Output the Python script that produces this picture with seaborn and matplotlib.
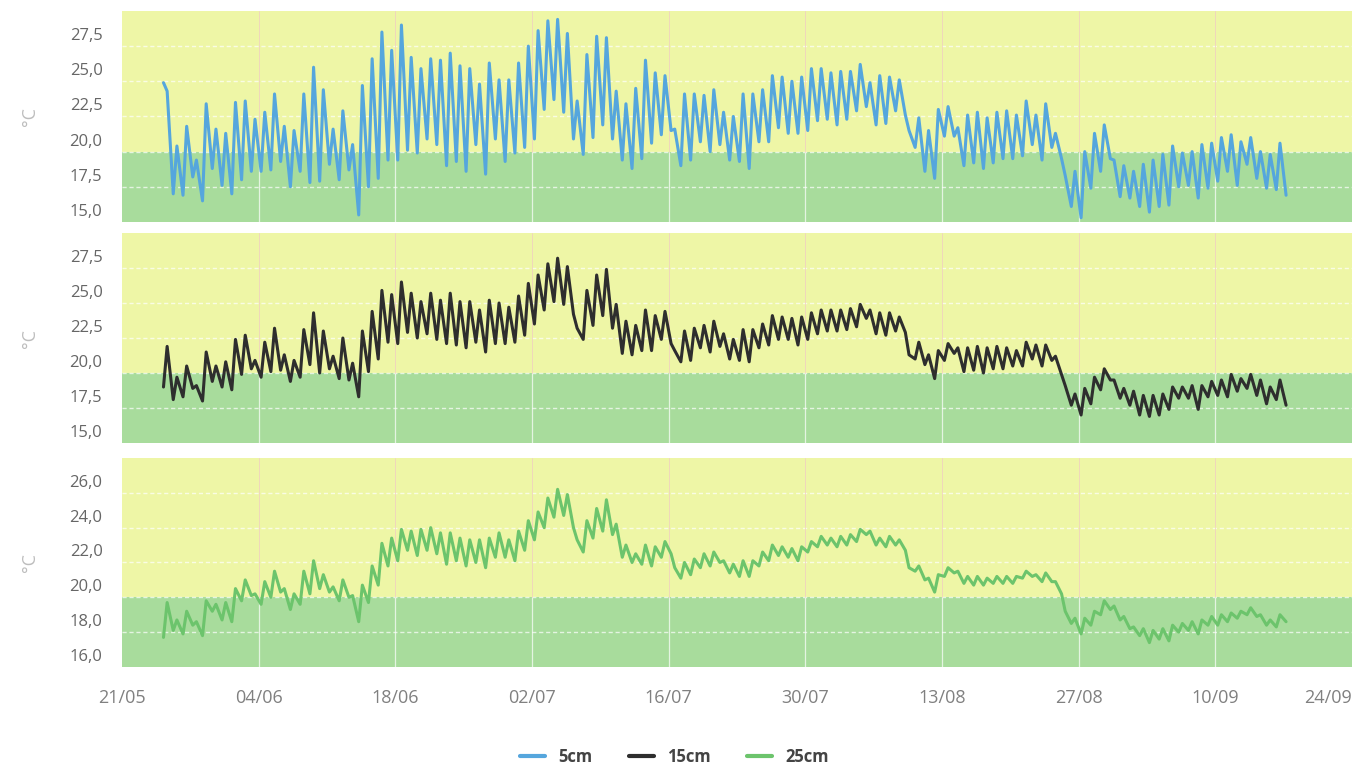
import pandas as pd
import matplotlib
matplotlib.use("Agg")
import matplotlib.pyplot as plt
import matplotlib.dates as mdates
from matplotlib.ticker import FuncFormatter
from matplotlib.transforms import ScaledTranslation
from matplotlib.lines import Line2D
import seaborn as sns

# ─────────────────────────────────────────────
# Soil temperature at 5 / 15 / 25 cm — daily lows (morning) and highs (afternoon)
# one value per day, 25/05 → 17/09
# ─────────────────────────────────────────────

DAYS = pd.date_range("2016-05-25", "2016-09-17", freq="D")

#            May 25-31 | June | July | August | September 1-17
LOW_5 = [24.9, 17.0, 16.9, 18.2, 16.5, 18.8, 17.6,
         17.0, 18.0, 18.6, 18.6, 18.7, 19.3, 17.5, 18.6, 17.8, 17.9, 19.1, 18.0, 18.7, 15.5, 17.5,
         18.1, 19.4, 19.4, 20.1, 19.9, 20.9, 20.5, 19.0, 19.3, 18.6, 20.5, 18.4, 20.9, 19.3, 19.9,
         20.3, 20.9, 23.0, 23.7, 22.8, 20.9, 19.8, 21.0, 21.9, 20.9, 19.4, 18.8, 19.5, 20.6, 21.2,
         21.5, 19.0, 19.4, 20.7, 20.0, 20.5, 19.4, 19.3, 18.8, 20.7, 20.7, 21.7, 21.3, 21.3, 21.5, 22.2,
         22.3, 21.9, 22.3, 22.9, 23.2, 21.9, 22.0, 22.9, 22.6, 20.3, 18.6, 18.1, 21.1, 21.1, 19.0,
         19.2, 18.8, 19.2, 19.5, 19.5, 19.7, 20.5, 19.4, 20.3, 19.5, 16.1, 15.3, 17.4, 18.6, 19.5, 16.8,
         16.7, 16.1, 15.7, 16.1, 16.2, 17.5, 17.6, 16.7, 17.4, 17.9, 18.6, 17.6, 19.1, 18.1, 17.4,
         17.3, 16.9]
HIGH_5 = [24.3, 20.4, 21.8, 19.4, 23.4, 21.6, 21.3,
          23.5, 23.6, 22.3, 22.8, 24.1, 21.8, 21.5, 24.1, 26.0, 24.4, 21.6, 22.9, 20.5, 24.7, 26.6,
          28.5, 27.2, 29.0, 26.7, 25.9, 26.6, 26.5, 27.0, 26.1, 25.9, 24.8, 26.3, 25.1, 25.1, 26.3,
          27.5, 28.6, 29.3, 29.4, 28.4, 23.6, 26.9, 28.2, 28.1, 24.3, 23.4, 24.5, 26.5, 25.6, 25.4,
          21.6, 24.1, 24.1, 24.0, 24.4, 22.8, 22.5, 24.1, 24.1, 24.4, 25.4, 25.3, 25.0, 25.3, 25.9, 25.9,
          25.6, 25.7, 25.7, 26.2, 24.9, 25.4, 25.3, 25.1, 21.5, 22.4, 21.5, 23.0, 23.2, 21.7, 22.6,
          22.8, 22.4, 22.8, 22.9, 22.6, 23.6, 22.6, 23.4, 21.3, 18.3, 18.6, 20.0, 21.3, 21.9, 19.4, 19.0,
          18.6, 19.1, 19.4, 19.8, 20.4, 19.9, 20.0, 20.5, 20.6, 21.0, 21.2, 20.7, 21.0, 20.0, 19.8,
          20.6, None]

LOW_15 = [19.0, 18.1, 18.3, 18.9, 18.0, 19.4, 19.0,
          18.8, 19.9, 20.3, 19.7, 20.1, 20.2, 19.4, 19.7, 20.6, 20.0, 20.3, 19.6, 19.5, 18.3, 20.1,
          21.0, 22.2, 22.1, 22.9, 22.5, 22.8, 22.4, 22.1, 22.0, 21.8, 22.2, 21.5, 22.1, 22.1, 22.2,
          22.7, 23.5, 24.5, 25.1, 24.9, 24.2, 22.4, 23.4, 24.1, 23.2, 21.4, 21.3, 21.6, 21.6, 22.4,
          22.1, 20.8, 20.9, 21.8, 21.5, 21.9, 21.0, 20.9, 20.8, 21.8, 22.0, 22.4, 22.4, 22.0, 22.4, 22.8,
          23.0, 23.0, 23.1, 23.3, 23.9, 22.8, 22.7, 23.0, 22.9, 21.0, 20.6, 19.6, 20.9, 21.4, 20.1,
          20.2, 20.0, 20.3, 20.3, 20.5, 20.5, 21.0, 20.5, 20.9, 19.9, 17.7, 17.0, 17.8, 18.8, 19.5, 18.2,
          17.7, 17.0, 16.9, 17.0, 17.4, 18.2, 18.2, 17.4, 18.3, 18.4, 18.3, 18.7, 18.9, 18.4, 17.8,
          18.1, 17.7]
HIGH_15 = [21.9, 19.7, 20.5, 19.1, 21.5, 20.5, 20.8,
           22.4, 22.7, 20.9, 22.2, 23.2, 21.3, 20.9, 23.1, 24.3, 23.0, 21.2, 22.5, 20.7, 23.0, 24.4,
           25.9, 25.6, 26.5, 25.7, 25.1, 25.7, 25.2, 25.7, 25.1, 25.1, 24.5, 25.2, 25.0, 24.7, 25.5,
           26.4, 27.0, 27.8, 28.2, 27.6, 23.2, 25.9, 27.0, 27.4, 24.9, 23.7, 23.4, 24.5, 24.1, 24.4,
           21.6, 23.0, 23.2, 23.4, 23.7, 22.8, 22.4, 23.1, 23.1, 23.5, 24.1, 24.0, 23.9, 24.0, 24.3, 24.5,
           24.5, 24.5, 24.6, 24.9, 24.5, 24.3, 24.3, 24.0, 21.3, 22.2, 21.3, 21.6, 22.1, 21.8, 21.8,
           21.9, 21.8, 21.9, 21.8, 21.6, 22.2, 22.0, 22.0, 21.2, 19.1, 18.5, 18.9, 19.7, 20.3, 19.5, 18.9,
           18.7, 18.4, 18.4, 18.5, 19.0, 19.0, 19.1, 19.1, 19.4, 19.5, 19.9, 19.6, 19.9, 19.5, 19.0,
           19.5, None]

LOW_25 = [17.7, 18.1, 17.9, 18.4, 17.8, 19.2, 18.7,
          18.6, 19.8, 20.1, 19.6, 20.0, 20.3, 19.3, 19.6, 20.2, 20.5, 20.3, 19.8, 20.0, 18.6, 19.7,
          20.7, 21.8, 22.1, 22.7, 22.4, 22.7, 22.5, 21.9, 22.1, 21.8, 22.0, 21.7, 22.3, 22.3, 22.1,
          22.7, 23.3, 24.0, 24.6, 24.7, 24.0, 22.6, 23.4, 23.8, 23.6, 22.3, 22.0, 21.9, 21.8, 22.3,
          22.5, 21.1, 21.3, 21.7, 21.8, 22.0, 21.4, 21.2, 21.2, 21.8, 22.1, 22.4, 22.3, 22.1, 22.6, 22.9,
          23.0, 22.9, 23.0, 23.2, 23.6, 23.0, 22.9, 23.0, 22.7, 21.5, 21.0, 20.3, 21.2, 21.4, 20.8,
          20.7, 20.7, 20.8, 20.8, 20.8, 21.1, 21.2, 20.9, 20.9, 20.2, 18.5, 17.9, 18.4, 19.0, 19.3, 18.7,
          18.2, 17.8, 17.4, 17.6, 17.5, 18.0, 18.1, 17.9, 18.4, 18.4, 18.6, 18.8, 19.0, 18.9, 18.4,
          18.3, 18.6]
HIGH_25 = [19.7, 18.7, 19.2, 18.6, 19.8, 19.6, 19.7,
           20.5, 21.0, 20.2, 20.9, 21.5, 20.5, 20.2, 21.5, 22.1, 21.3, 20.6, 21.0, 20.1, 20.7, 21.8,
           23.1, 23.4, 23.9, 23.8, 23.9, 24.0, 23.7, 23.7, 23.4, 23.3, 23.3, 23.4, 23.7, 23.3, 23.8,
           24.4, 24.9, 25.7, 26.2, 25.9, 23.3, 24.4, 25.1, 25.6, 24.2, 23.0, 22.5, 23.0, 22.9, 23.2,
           21.7, 22.0, 22.2, 22.5, 22.6, 22.1, 21.9, 22.1, 22.1, 22.6, 23.0, 22.9, 22.8, 22.9, 23.2, 23.5,
           23.4, 23.5, 23.6, 23.9, 23.8, 23.4, 23.5, 23.3, 21.7, 21.8, 21.1, 21.3, 21.7, 21.5, 21.2,
           21.2, 21.1, 21.2, 21.2, 21.2, 21.5, 21.3, 21.4, 20.9, 19.2, 18.8, 18.8, 19.2, 19.8, 19.5, 18.9,
           18.3, 18.2, 18.1, 18.2, 18.4, 18.5, 18.6, 18.7, 18.9, 19.0, 19.1, 19.2, 19.4, 19.0, 18.7,
           19.0, None]

LABELS = ["5cm", "15cm", "25cm"]
COLORS = ["#55a6dd", "#2e2e2e", "#6cc46c"]

YELLOW_BG = "#eef6a6"
GREEN_BG  = "#a8dc9c"


def daily_frame(lows, highs):
    # morning low, afternoon high for every day
    rows = []
    for day, lo, hi in zip(DAYS, lows, highs):
        rows.append((day + pd.Timedelta(hours=6), lo))
        if hi is not None:
            rows.append((day + pd.Timedelta(hours=15), hi))
    return pd.DataFrame(rows, columns=["time", "temp"])


sns.set_style("white")
plt.rcParams["font.family"] = ["Open Sans", "DejaVu Sans"]

fig = plt.figure(figsize=(13.54, 7.71), dpi=100)

panels = [
    (LOW_5,  HIGH_5,  (15, 30), [15, 17.5, 20, 22.5, 25, 27.5], [0.0901, 0.7121, 0.9084, 0.2737]),
    (LOW_15, HIGH_15, (15, 30), [15, 17.5, 20, 22.5, 25, 27.5], [0.0901, 0.4254, 0.9084, 0.2724]),
    (LOW_25, HIGH_25, (16, 28), [16, 18, 20, 22, 24, 26],       [0.0901, 0.1349, 0.9084, 0.2711]),
]

x_start = pd.Timestamp("2016-05-21")
x_end   = pd.Timestamp("2016-09-24")
x_ticks = pd.date_range(x_start, x_end, freq="14D")

axes = []
for i, (lows, highs, ylim, yticks, rect) in enumerate(panels):
    ax = fig.add_axes(rect)
    axes.append(ax)

    ax.axhspan(ylim[0], 20, color=GREEN_BG, lw=0, zorder=0)
    ax.axhspan(20, ylim[1], color=YELLOW_BG, lw=0, zorder=0)

    sns.lineplot(data=daily_frame(lows, highs), x="time", y="temp",
                 color=COLORS[i], lw=2.2, ax=ax, zorder=3)

    ax.set_xlim(x_start, x_end)
    ax.set_ylim(*ylim)
    ax.set_xticks(x_ticks)
    ax.xaxis.set_major_formatter(mdates.DateFormatter("%d/%m"))
    ax.set_yticks(yticks)
    ax.yaxis.set_major_formatter(FuncFormatter(lambda v, _: f"{v:.1f}".replace(".", ",")))

    ax.grid(False)
    for t in yticks[1:]:
        ax.axhline(t, color="white", lw=1.0, ls=(0, (3, 2)), alpha=0.7, zorder=1)
    # vertical grid: white over the green band, faint pink over the yellow
    frac20 = (20 - ylim[0]) / (ylim[1] - ylim[0])
    for t in x_ticks[1:-1]:
        ax.axvline(t, ymin=0, ymax=frac20, color="white", lw=0.9, alpha=0.7, zorder=1)
        ax.axvline(t, ymin=frac20, ymax=1, color="#f0cfc0", lw=0.7, alpha=0.8, zorder=1)

    for s in ax.spines.values():
        s.set_visible(False)

    ax.set_xlabel("")
    ax.set_ylabel("°C", color="#bdbdbd", fontsize=13, labelpad=22)
    ax.tick_params(axis="y", length=0, pad=14, labelsize=12, labelcolor="#666666")
    ax.tick_params(axis="x", length=0, pad=16, labelsize=13, labelcolor="#808080")

    # labels sit just above their grid line
    offset = ScaledTranslation(0, 0.12, fig.dpi_scale_trans)
    for lab in ax.get_yticklabels():
        lab.set_transform(lab.get_transform() + offset)

    if i < 2:
        ax.tick_params(axis="x", labelbottom=False)

xlabs = axes[-1].get_xticklabels()
xlabs[-1].set_horizontalalignment("right")

handles = [Line2D([], [], color=c, lw=3) for c in COLORS]
fig.legend(handles, LABELS, loc="center", bbox_to_anchor=(0.498, 0.018), ncol=3,
           frameon=False, handlelength=1.5, columnspacing=2.2,
           prop={"weight": "bold", "size": 12}, labelcolor="#444444")

plt.savefig("out.png", dpi=100)
plt.close()
print("Saved: out.png")
